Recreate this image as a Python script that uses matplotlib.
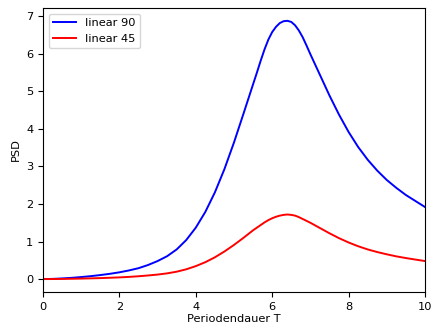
import matplotlib
matplotlib.use("Agg")
import matplotlib.pyplot as plt

x = [0, 0.25, 0.5, 0.75, 1, 1.25, 1.5, 1.75, 2, 2.25, 2.5, 2.75, 3, 3.25, 3.5, 3.75,
     4, 4.25, 4.5, 4.75, 5, 5.25, 5.5, 5.6, 5.7, 5.8, 5.9, 6, 6.1, 6.2, 6.3, 6.4,
     6.5, 6.6, 6.7, 6.8, 6.9, 7, 7.25, 7.5, 7.75, 8, 8.25, 8.5, 8.75, 9, 9.25, 9.5,
     9.75, 10]
linear90 = [0, 0.005, 0.017, 0.033, 0.054, 0.078, 0.107, 0.14, 0.18, 0.23, 0.29, 0.375,
            0.48, 0.61, 0.79, 1.04, 1.37, 1.79, 2.31, 2.93, 3.64, 4.41, 5.19, 5.50,
            5.82, 6.12, 6.38, 6.58, 6.72, 6.82, 6.87, 6.88, 6.85, 6.76, 6.62, 6.44,
            6.22, 5.99, 5.44, 4.89, 4.38, 3.92, 3.52, 3.18, 2.89, 2.64, 2.43, 2.24,
            2.08, 1.92]
linear45 = [0, 0.001, 0.004, 0.008, 0.013, 0.019, 0.026, 0.035, 0.045, 0.058, 0.075,
            0.096, 0.12, 0.152, 0.197, 0.26, 0.345, 0.45, 0.58, 0.735, 0.91, 1.10, 1.30,
            1.37, 1.44, 1.51, 1.57, 1.62, 1.66, 1.69, 1.71, 1.72, 1.71, 1.69, 1.65,
            1.60, 1.55, 1.50, 1.36, 1.22, 1.09, 0.975, 0.875, 0.79, 0.72, 0.66, 0.605,
            0.56, 0.52, 0.48]

plt.rcParams['font.size'] = 8.2
fig = plt.figure(figsize=(4.39, 3.29), dpi=100)
ax = fig.add_axes([0.098, 0.1125, 0.870, 0.8635])
ax.plot(x, linear90, color='blue', lw=1.4, label='linear 90')
ax.plot(x, linear45, color='red', lw=1.4, label='linear 45')
ax.set_xlim(0, 10)
ax.set_xlabel('Periodendauer T', labelpad=2)
ax.set_ylabel('PSD', labelpad=4)
ax.legend(loc='upper left')
fig.savefig('out.png', dpi=100)
